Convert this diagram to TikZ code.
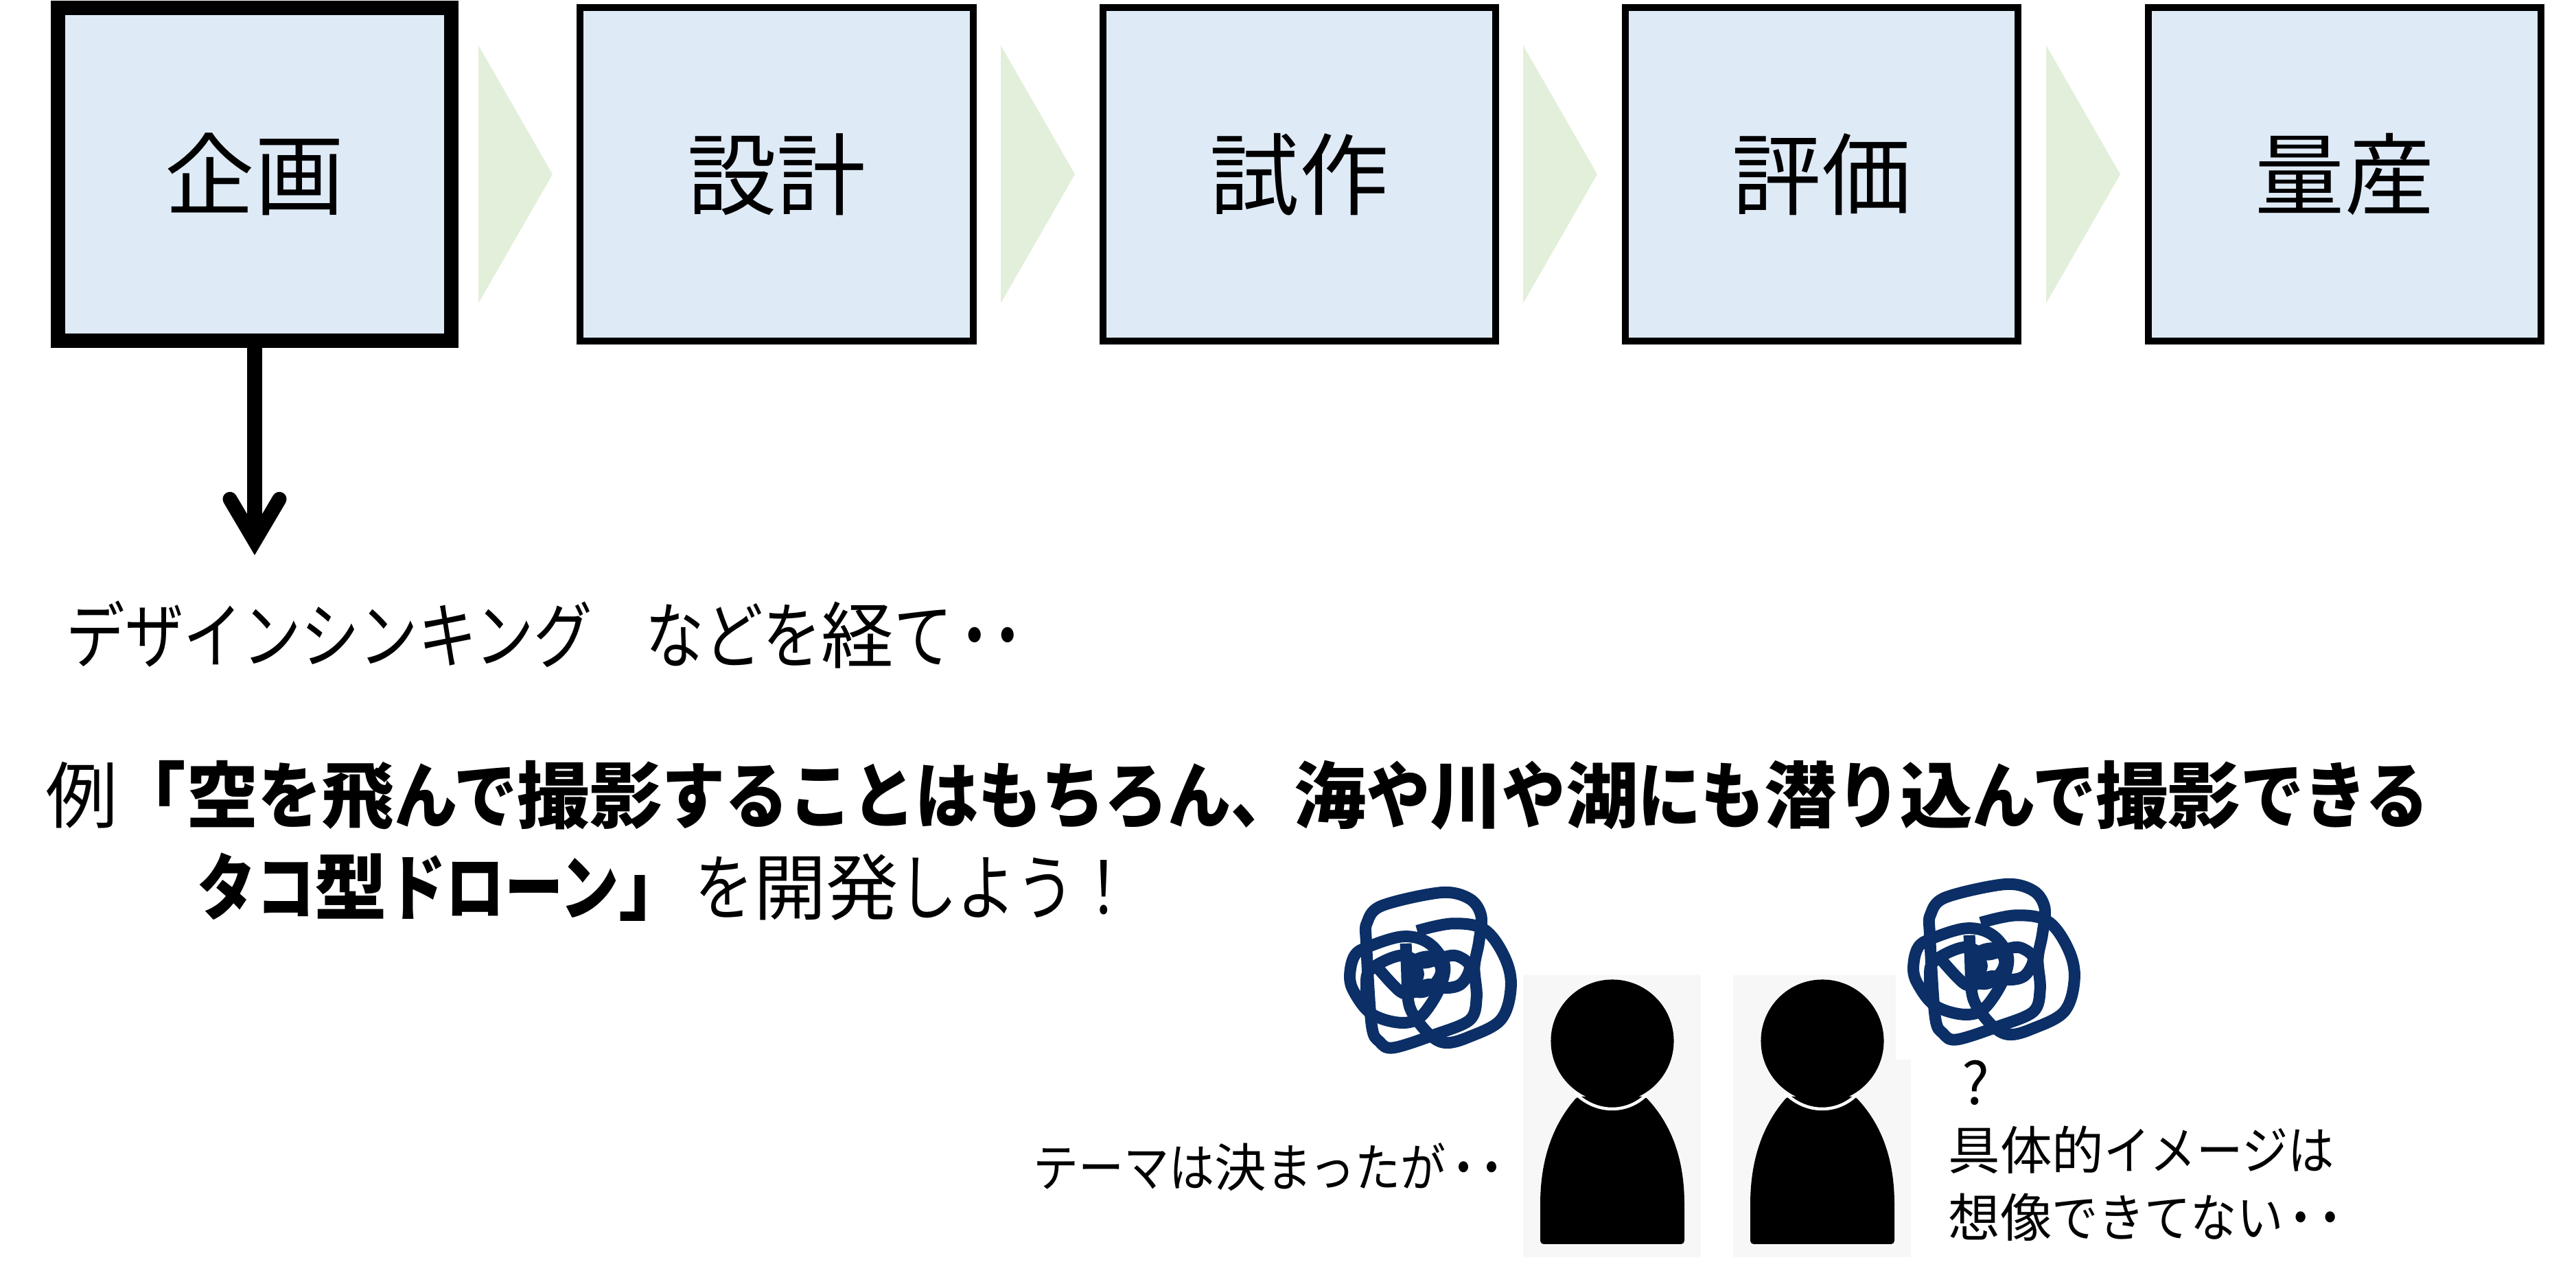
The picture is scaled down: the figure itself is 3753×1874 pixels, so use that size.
\documentclass[tikz,border=0pt]{standalone}
\usepackage{fontspec}
\usepackage{tikz}
\usetikzlibrary{arrows.meta,positioning}
\newfontfamily\jp{Noto Sans CJK JP}
\newfontfamily\jpk[FakeStretch=0.81]{Noto Sans CJK JP}
\newfontfamily\jpm[FakeStretch=0.873]{Noto Sans CJK JP}
\newfontfamily\jpw[FakeStretch=0.89]{Noto Sans CJK JP}
\newcommand{\kn}[1]{{\jpk #1}}
\newcommand{\km}[1]{{\jpm #1}}
\newcommand{\kw}[1]{{\jpw #1}}
\newcommand{\dotpair}[1]{\kern-.1em・\kern#1・}
\definecolor{boxblue}{HTML}{DEEAF6}
\definecolor{chevgreen}{HTML}{E2EFDA}
\definecolor{personbg}{HTML}{F7F7F7}
\definecolor{scribblue}{HTML}{0B2F66}

\begin{document}
\begin{tikzpicture}[
  x=0.01cm,y=-0.01cm,
  stage/.style={rectangle,draw=black,fill=boxblue,line width=0.1cm,
                minimum width=5.72cm,minimum height=4.85cm,inner sep=0pt,
                font=\jp\fontsize{37}{42}\selectfont},
  current/.style={stage,line width=0.21cm},
  chevron/.style={fill=chevgreen},
  mainarrow/.style={-{Straight Barb[length=6.1mm,width=7.2mm,line cap=round,line join=miter]},line width=0.21cm},
  bodytext/.style={anchor=base west,inner sep=0pt,font=\jp\fontsize{30}{36}\selectfont},
  boldtext/.style={bodytext,font=\jp\bfseries\fontsize{30}{36}\selectfont},
  smalltext/.style={anchor=base west,inner sep=0pt,font=\jp\fontsize{21.5}{26}\selectfont},
  scribble/.style={draw=scribblue,line width=0.17cm,line join=round},
  personfill/.style={fill=black,rounded corners=0.05cm}
]
\useasboundingbox (0,0) rectangle (3753,1874);

\node[current] (plan) at (371,254) {企画};
\node[stage] (design) at (1131.5,254) {設計};
\node[stage] (proto) at (1893,254) {試作};
\node[stage] (review) at (2654,254) {評価};
\node[stage] (mass) at (3416,254) {量産};

\foreach \cx in {697,1458,2219,2981}
  \fill[chevron] (\cx,66) -- (\cx+108,254) -- (\cx,442) -- cycle;

\coordinate (planend) at (371,809);
\draw[mainarrow] (plan.south) -- (planend);

\node[bodytext] (thinking) at (96,966) {\kn{デザインシンキング}\hspace{22pt}\kn{などを}経\kn{て\dotpair{-.35em}}};

\node[bodytext] (example) at (66,1199) {例};
\node[boldtext] (themea) at (165,1199)
  {「空\km{を}飛\km{んで}撮影\km{することはもちろん、}海\km{や}川\km{や}湖\km{にも}潜\km{り}込\km{んで}撮影\km{できる}};
\node[boldtext] (themeb) at (287,1333)
  {\kn{タコ}型\kn{ドローン}」};
\node[bodytext] (develop) at (1012,1333) {\kn{を}開発\kn{しよう！}};

\foreach \px in {0,306}{
  \fill[personbg] (2219+\px,1421) rectangle (2478+\px,1832);
  \fill[white] (2762,1415) rectangle (2790,1544);
  \fill[personfill] (2298+\px,1598) .. controls (2262+\px,1640) and (2244+\px,1690) .. (2244+\px,1760)
    -- (2244+\px,1813) -- (2454+\px,1813) -- (2454+\px,1760)
    .. controls (2454+\px,1690) and (2436+\px,1640) .. (2397+\px,1598) -- cycle;
  \fill[black] (2349+\px,1517) circle (0.895cm);
  \draw[white,line width=0.045cm] (2294+\px,1592) .. controls (2325+\px,1624) and (2373+\px,1624) .. (2402+\px,1592);
}

\foreach \sx/\sy in {1900/1260,2721/1248}{
  \begin{scope}[shift={(\sx,\sy)},x=0.003333cm,y=-0.003333cm]
    \draw[scribble] plot[smooth cycle,tension=0.55] coordinates {(272,345) (275,255) (340,180) (600,122) (725,150) (775,225) (765,340) (745,450) (755,580) (725,680) (570,745) (390,802) (330,775) (295,700)};
    \draw[scribble] plot[smooth,tension=0.6] coordinates {(495,290) (650,258) (790,285) (880,410) (905,540) (860,680) (720,755) (620,780) (550,745) (480,660) (455,590) (450,470) (445,345)};
    \draw[scribble] plot[smooth cycle,tension=0.6] coordinates {(280,360) (430,315) (540,340) (610,425) (605,510) (555,610) (490,680) (400,690) (290,650) (220,560) (200,490) (220,400)};
    \draw[scribble] plot[smooth,tension=0.6] coordinates {(275,640) (272,540) (290,460) (420,398) (520,430) (610,405) (670,400) (725,445) (690,520) (620,540) (540,525) (475,560) (420,555) (325,455)};
    \draw[scribble] plot[smooth cycle,tension=0.7] coordinates {(480,425) (560,405) (600,470) (540,550) (475,545) (500,480)};
  \end{scope}
}

\node[smalltext] (theme) at (1505,1730) {\km{テーマは}決\km{まったが\dotpair{-.32em}}};
\node[smalltext,font=\jp\fontsize{24}{28}\selectfont] (query) at (2858,1610) {?};
\node[smalltext] (imagea) at (2838,1705) {具体的\kw{イメージは}};
\node[smalltext] (imageb) at (2838,1803) {想像\kw{できてない\dotpair{-.32em}}};
\end{tikzpicture}
\end{document}
